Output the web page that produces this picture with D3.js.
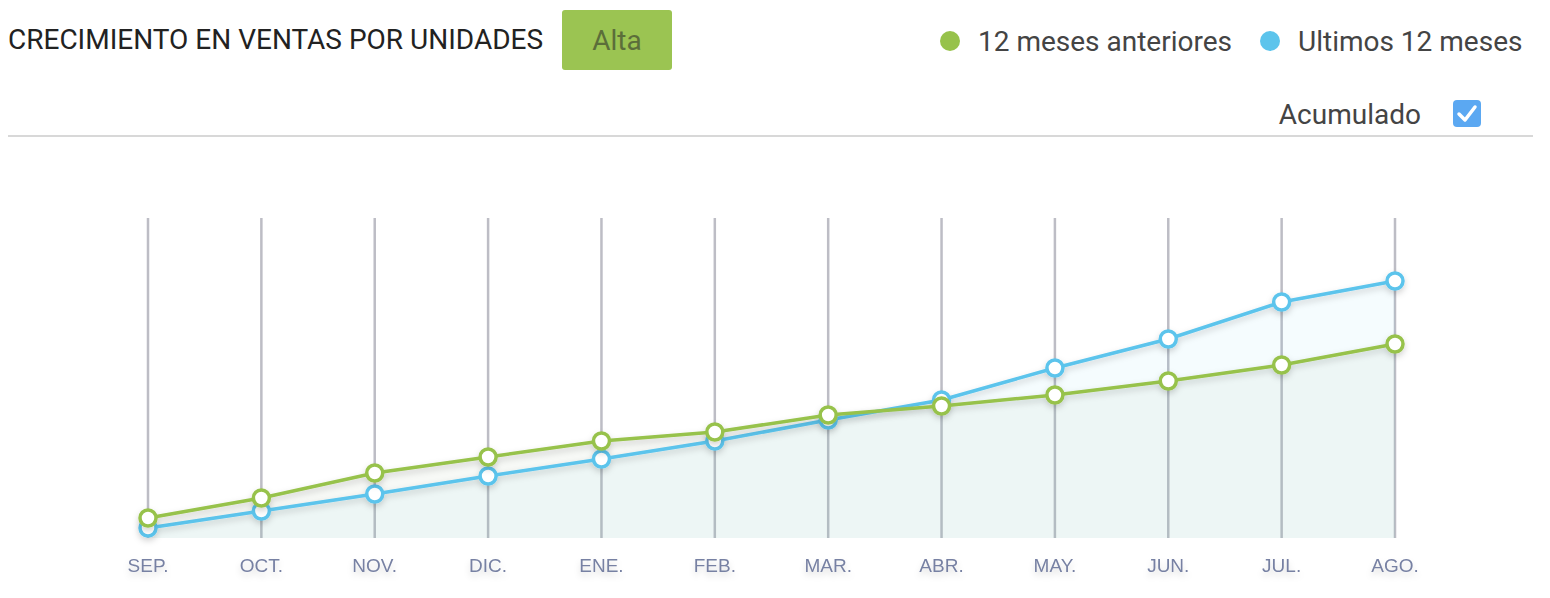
<!DOCTYPE html>
<html lang="es">
<head>
    <meta charset="UTF-8">
    <title>Crecimiento en ventas por unidades</title>
    <script src="https://d3js.org/d3.v7.min.js"></script>
    <style>
        body {
            margin: 0;
            background: #fff;
            font-family: Roboto, "Noto Sans", sans-serif;
        }
        svg {
            display: block;
        }
        .month-label {
            font-family: "Liberation Sans", Arial, sans-serif;
            font-size: 19px;
            fill: #7781a3;
        }
    </style>
</head>
<body>
    <svg width="1550" height="598"></svg>

    <script>
        // Datos (unidades acumuladas)
        const months = ["SEP.", "OCT.", "NOV.", "DIC.", "ENE.", "FEB.", "MAR.", "ABR.", "MAY.", "JUN.", "JUL.", "AGO."];
        const prevYear = [200, 400, 650, 810, 970, 1060, 1230, 1320, 1430, 1570, 1730, 1940];
        const lastYear = [100, 270, 440, 620, 790, 970, 1180, 1380, 1700, 1990, 2360, 2570];
        const yMax = 3200;

        const seriesNames = ["12 meses anteriores", "Ultimos 12 meses"];
        const green = "#97c24b";
        const blue = "#5cc4ec";

        const width = 1550;
        const height = 598;
        const margin = { top: 218, right: 155, bottom: 60, left: 148 };

        const svg = d3.select("svg");

        // filtros de sombra
        const defs = svg.append("defs");
        const shadow = defs.append("filter").attr("id", "shadow")
            .attr("x", "-20%").attr("y", "-20%").attr("width", "140%").attr("height", "140%");
        shadow.append("feDropShadow")
            .attr("dx", 0).attr("dy", 3).attr("stdDeviation", 3)
            .attr("flood-color", "#000").attr("flood-opacity", 0.18);
        const textShadow = defs.append("filter").attr("id", "textShadow")
            .attr("x", "-30%").attr("y", "-50%").attr("width", "160%").attr("height", "250%");
        textShadow.append("feDropShadow")
            .attr("dx", 0).attr("dy", 4).attr("stdDeviation", 3)
            .attr("flood-color", "#000").attr("flood-opacity", 0.15);

        // ---- cabecera ----
        svg.append("text")
            .attr("x", 8).attr("y", 49)
            .style("font-size", "28px").style("fill", "#222")
            .text("CRECIMIENTO EN VENTAS POR UNIDADES");

        svg.append("rect")
            .attr("x", 562).attr("y", 10).attr("width", 110).attr("height", 60).attr("rx", 3)
            .attr("fill", "#9bc452");
        svg.append("text")
            .attr("x", 617).attr("y", 50).attr("text-anchor", "middle")
            .style("font-size", "28px").style("fill", "#5b6e3a")
            .text("Alta");

        // leyenda
        const legend = [
            { name: seriesNames[0], color: green, x: 950 },
            { name: seriesNames[1], color: blue, x: 1270 }
        ];
        const lg = svg.selectAll(".legend").data(legend).join("g").attr("class", "legend");
        lg.append("circle")
            .attr("cx", d => d.x).attr("cy", 41).attr("r", 10)
            .attr("fill", d => d.color);
        lg.append("text")
            .attr("x", d => d.x + 28).attr("y", 51)
            .style("font-size", "28px").style("fill", "#444")
            .text(d => d.name);

        svg.append("text")
            .attr("x", 1421).attr("y", 124).attr("text-anchor", "end")
            .style("font-size", "28px").style("fill", "#444")
            .text("Acumulado");
        svg.append("rect")
            .attr("x", 1453).attr("y", 100).attr("width", 28).attr("height", 27).attr("rx", 4)
            .attr("fill", "#5ba8f2");
        svg.append("path")
            .attr("d", "M1459,114 L1465,120 L1475,107")
            .attr("fill", "none").attr("stroke", "#fff").attr("stroke-width", 3.5)
            .attr("stroke-linecap", "round").attr("stroke-linejoin", "round");

        svg.append("line")
            .attr("x1", 8).attr("x2", 1533).attr("y1", 136).attr("y2", 136)
            .attr("stroke", "#d8d8d8").attr("stroke-width", 2);

        // ---- grafico ----
        const x = d3.scalePoint()
            .domain(months)
            .range([margin.left, width - margin.right]);

        const y = d3.scaleLinear()
            .domain([0, yMax])
            .range([height - margin.bottom, margin.top]);

        const prevData = months.map((m, i) => ({ month: m, value: prevYear[i] }));
        const lastData = months.map((m, i) => ({ month: m, value: lastYear[i] }));

        // lineas verticales
        svg.append("g")
            .selectAll("line")
            .data(months)
            .join("line")
            .attr("x1", d => x(d)).attr("x2", d => x(d))
            .attr("y1", y(yMax)).attr("y2", y(0))
            .attr("stroke", "#bdbdc5").attr("stroke-width", 2.5);

        const area = d3.area()
            .x(d => x(d.month))
            .y0(y(0))
            .y1(d => y(d.value));

        const line = d3.line()
            .x(d => x(d.month))
            .y(d => y(d.value));

        svg.append("path").datum(lastData)
            .attr("d", area).attr("fill", "#5cc4ec").attr("fill-opacity", 0.06);
        svg.append("path").datum(prevData)
            .attr("d", area).attr("fill", "#9bb48a").attr("fill-opacity", 0.08);

        const series = [
            { data: lastData, color: blue },
            { data: prevData, color: green }
        ];

        series.forEach(s => {
            const g = svg.append("g").attr("filter", "url(#shadow)");
            g.append("path").datum(s.data)
                .attr("d", line)
                .attr("fill", "none")
                .attr("stroke", s.color)
                .attr("stroke-width", 3.5);
            g.selectAll("circle")
                .data(s.data)
                .join("circle")
                .attr("cx", d => x(d.month))
                .attr("cy", d => y(d.value))
                .attr("r", 8)
                .attr("fill", "#fff")
                .attr("stroke", s.color)
                .attr("stroke-width", 3.5);
        });

        // etiquetas del eje x
        svg.append("g")
            .attr("filter", "url(#textShadow)")
            .selectAll("text")
            .data(months)
            .join("text")
            .attr("class", "month-label")
            .attr("x", d => x(d))
            .attr("y", 572)
            .attr("text-anchor", "middle")
            .text(d => d);
    </script>
</body>
</html>
